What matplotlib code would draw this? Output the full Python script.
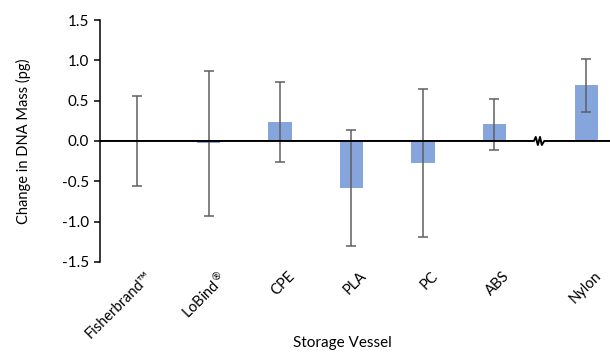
import numpy as np
import matplotlib
matplotlib.use("Agg")
import matplotlib.pyplot as plt
import matplotlib.transforms as mtransforms

# data
vessels = ["Fisherbrand\u2122", "LoBind$^{\u00ae}$", "CPE", "PLA", "PC", "ABS", "Nylon"]
change = [0.0, -0.03, 0.235, -0.58, -0.27, 0.205, 0.69]
err = [0.56, 0.90, 0.50, 0.72, 0.92, 0.32, 0.33]

plt.rcParams['font.family'] = ['Lato', 'DejaVu Sans']

fig = plt.figure(figsize=(6.1, 3.52), dpi=100)
ax = fig.add_axes([0.164, 0.256, 0.836, 0.687])

# Nylon sits a bit further right, past the axis break
pos = np.arange(len(vessels), dtype=float)
pos[-1] += 0.29
brk = 5.61

ax.bar(pos, change, width=0.33, color='#86A5DC', zorder=2)
ax.errorbar(pos, change, yerr=err, fmt='none', ecolor='#5f5f5f',
            elinewidth=1.1, capsize=3.5, capthick=1.1, zorder=3)

x0, x1 = -0.52, 6.62
ax.set_xlim(x0, x1)
ax.set_ylim(-1.5, 1.5)

# zero line with break zigzag
zz_x = brk + np.array([-0.09, -0.055, -0.03, 0.0, 0.03, 0.055, 0.09])
zz_y = np.array([0, 0, 0.05, -0.05, 0.05, -0.05, 0])
lx = np.concatenate([[x0], zz_x, [x1]])
ly = np.concatenate([[0], zz_y, [0]])
ax.plot(lx, ly, color='black', lw=1.4, zorder=4, clip_on=False)

ax.spines['top'].set_visible(False)
ax.spines['right'].set_visible(False)
ax.spines['bottom'].set_visible(False)
ax.spines['left'].set_linewidth(1.1)

yt = np.arange(-1.5, 1.51, 0.5)
ax.set_yticks(yt)
ax.set_yticklabels([f"{v:.1f}" for v in yt], fontsize=11)
ax.tick_params(axis='y', direction='out', length=4, width=1.1, pad=4)

ax.set_xticks(pos)
ax.set_xticklabels(vessels, rotation=45, ha='right', rotation_mode='anchor', fontsize=10.5)
ax.tick_params(axis='x', length=0, pad=5)
shift = mtransforms.ScaledTranslation(8 / 100, 0, fig.dpi_scale_trans)
for lab in ax.get_xticklabels():
    lab.set_transform(lab.get_transform() + shift)

ax.set_ylabel("Change in DNA Mass (pg)", fontsize=10.5, labelpad=22)
fig.text(0.562, 0.005, "Storage Vessel", ha='center', va='bottom', fontsize=11)

fig.savefig("out.png", dpi=100)
